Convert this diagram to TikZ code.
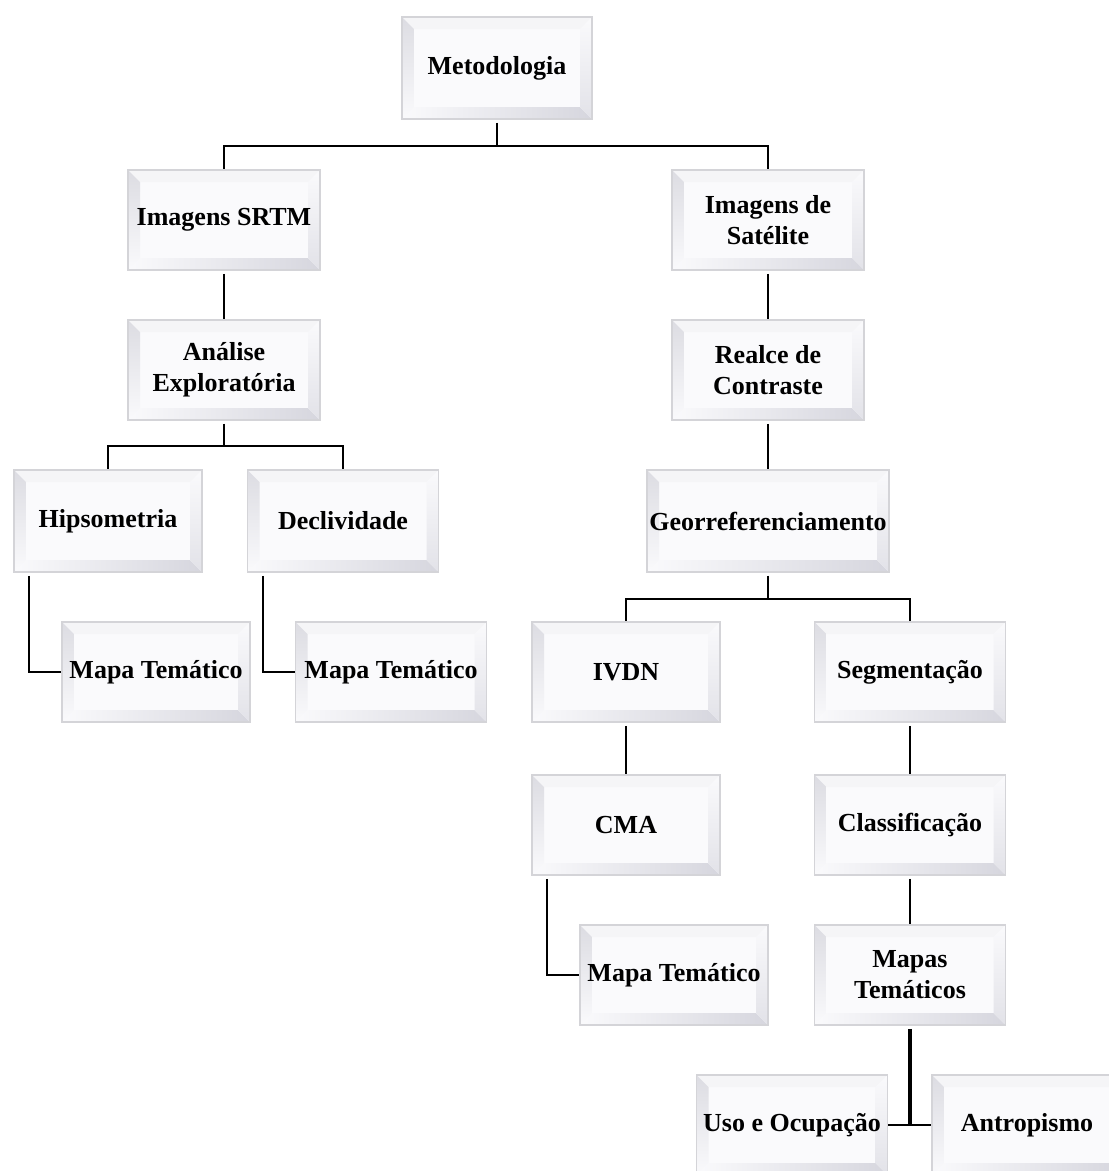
\documentclass[tikz,border=0pt]{standalone}
\usepackage{fontspec}
\setmainfont{Liberation Serif}
\definecolor{boxfill}{HTML}{FAFAFC}
\definecolor{bevtop}{HTML}{F5F5F7}
\definecolor{bevleft}{HTML}{DCDCE2}
\definecolor{bevbot}{HTML}{D6D6DE}
\definecolor{bevright}{HTML}{E2E2E8}
\definecolor{boxedge}{HTML}{D4D4D8}
\begin{document}
\begin{tikzpicture}[x=1pt,y=-1pt]
\tikzset{
  bevel/.style={draw=boxedge, line width=1.5pt, fill=boxfill, minimum width=190pt,
    minimum height=100pt, inner sep=0pt, align=center,
    font=\fontsize{26}{31}\selectfont\bfseries,
    path picture={
      \fill[bevtop] (path picture bounding box.north west) -- (path picture bounding box.north east)
        -- ([xshift=-12pt,yshift=-12pt]path picture bounding box.north east)
        -- ([xshift=12pt,yshift=-12pt]path picture bounding box.north west) -- cycle;
      \shade[top color=bevleft, bottom color=boxfill] (path picture bounding box.north west) -- (path picture bounding box.south west)
        -- ([xshift=12pt,yshift=12pt]path picture bounding box.south west)
        -- ([xshift=12pt,yshift=-12pt]path picture bounding box.north west) -- cycle;
      \shade[left color=boxfill, right color=bevbot] (path picture bounding box.south west) -- (path picture bounding box.south east)
        -- ([xshift=-12pt,yshift=12pt]path picture bounding box.south east)
        -- ([xshift=12pt,yshift=12pt]path picture bounding box.south west) -- cycle;
      \shade[top color=boxfill, bottom color=bevright] (path picture bounding box.north east) -- (path picture bounding box.south east)
        -- ([xshift=-12pt,yshift=12pt]path picture bounding box.south east)
        -- ([xshift=-12pt,yshift=-12pt]path picture bounding box.north east) -- cycle;
    }},
  link/.style={draw=black, line width=1.8pt, shorten <=3pt},
  heavylink/.style={draw=black, line width=3.5pt}
}
\clip (0,0) rectangle (1109,1171);
\fill[white] (0,0) rectangle (1109,1171);

\node[bevel, minimum height=102pt] (met) at (497,68) {Metodologia};
\node[bevel, minimum width=192pt] (srtm) at (224,220) {Imagens SRTM};
\node[bevel, minimum width=192pt] (sat) at (768,220) {Imagens de\\Satélite};
\node[bevel, minimum width=192pt] (ana) at (224,370) {Análise\\Exploratória};
\node[bevel, minimum width=192pt] (real) at (768,370) {Realce de\\Contraste};
\node[bevel, minimum width=188pt, minimum height=102pt] (hip) at (108,521) {Hipsometria};
\node[bevel, minimum width=191pt, minimum height=102pt] (dec) at (343,521) {Declividade};
\node[bevel, minimum width=242pt, minimum height=102pt] (geo) at (768,521) {Georreferenciamento};
\node[bevel, minimum width=188pt] (mt1) at (156,672) {Mapa Temático};
\node[bevel, minimum width=191pt] (mt2) at (391,672) {Mapa Temático};
\node[bevel, minimum width=188pt] (ivdn) at (626,672) {IVDN};
\node[bevel, minimum width=191pt] (seg) at (910,672) {Segmentação};
\node[bevel, minimum width=188pt] (cma) at (626,825) {CMA};
\node[bevel, minimum width=191pt] (cla) at (910,825) {Classificação};
\node[bevel, minimum width=188pt] (mt3) at (674,975) {Mapa Temático};
\node[bevel, minimum width=191pt] (mts) at (910,975) {Mapas\\Temáticos};
\node[bevel, minimum width=191pt] (uso) at (792,1125) {Uso e Ocupação};
\node[bevel, minimum width=190pt] (ant) at (1027,1125) {Antropismo};

\draw[link] (met.south) -- ++(0,26) -| (srtm.north);
\draw[link] (met.south) -- ++(0,26) -| (sat.north);
\draw[link] (srtm.south) -- (ana.north);
\draw[link] (sat.south) -- (real.north);
\draw[link] (ana.south) -- ++(0,25) -| (hip.north);
\draw[link] (ana.south) -- ++(0,25) -| (dec.north);
\draw[link] (real.south) -- (geo.north);
\draw[link] ([xshift=16pt]hip.south west) |- (mt1.west);
\draw[link] ([xshift=16pt]dec.south west) |- (mt2.west);
\draw[link] (geo.south) -- ++(0,26) -| (ivdn.north);
\draw[link] (geo.south) -- ++(0,26) -| (seg.north);
\draw[link] (ivdn.south) -- (cma.north);
\draw[link] (seg.south) -- (cla.north);
\draw[link] (cla.south) -- (mts.north);
\draw[link] ([xshift=16pt]cma.south west) |- (mt3.west);
\draw[heavylink, shorten <=3pt] (mts.south) -- (mts.south |- uso.east);
\draw[link, shorten <=0pt] (uso.east) -- (ant.west);
\end{tikzpicture}
\end{document}
